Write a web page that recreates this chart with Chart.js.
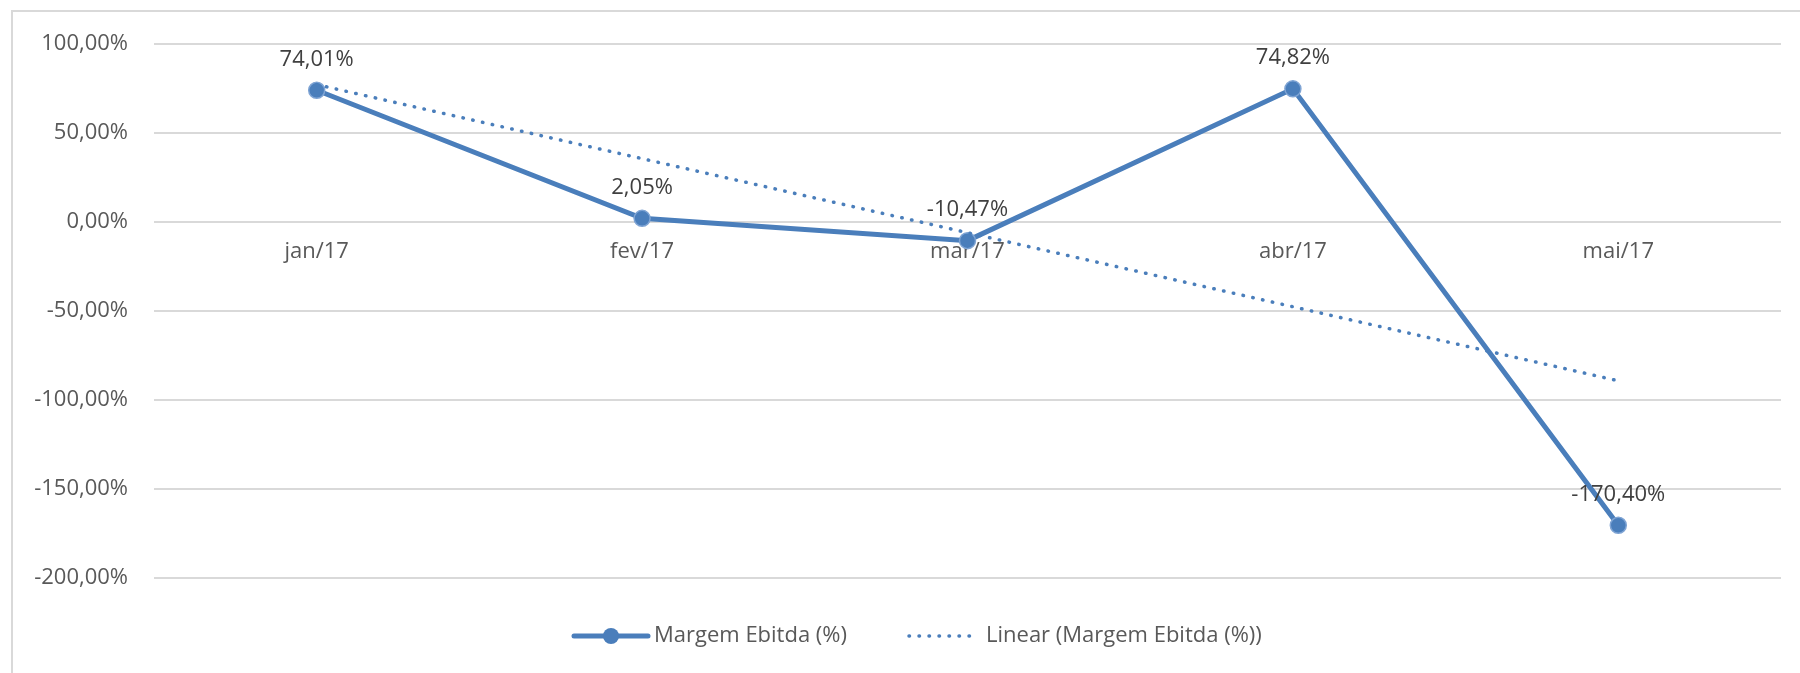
<!DOCTYPE html>
<html>
<head>
<meta charset="utf-8">
<script src="https://cdn.jsdelivr.net/npm/chart.js@4"></script>
<style>
  html, body { margin: 0; padding: 0; background: #ffffff; overflow: hidden; }
  #frame { position: absolute; left: 11px; top: 10px; width: 2000px; height: 1000px;
           border: 2px solid #d9d9d9; box-sizing: border-box; }
  #wrap { position: absolute; left: 0; top: 0; width: 1800px; height: 673px; }
</style>
</head>
<body>
<div id="frame"></div>
<div id="wrap"><canvas id="chart" width="1800" height="673"></canvas></div>
<script>
// Monthly EBITDA margin (%) and its linear trend line
const categories = ['jan/17', 'fev/17', 'mar/17', 'abr/17', 'mai/17'];
const margemEbitda = [74.01, 2.05, -10.47, 74.82, -170.40];
const tendenciaLinear = [77.21, 35.60, -6.00, -47.60, -89.21];
const yTicks = [100, 50, 0, -50, -100, -150, -200];
const seriesNames = ['Margem Ebitda (%)', 'Linear (Margem Ebitda (%))'];

const BLUE = '#4a7ebb';
const FONT = "'Open Sans', sans-serif";
const FONT_SIZE = 22;
const AXIS_TEXT = '#595959';
const LABEL_TEXT = '#404040';

const fmtPct = v => v.toFixed(2).replace('.', ',') + '%';

// Value labels above each point of the main series
const valueLabels = {
  id: 'valueLabels',
  afterDatasetsDraw(chart) {
    const ctx = chart.ctx;
    const meta = chart.getDatasetMeta(0);
    ctx.save();
    ctx.font = FONT_SIZE + 'px ' + FONT;
    ctx.fillStyle = LABEL_TEXT;
    ctx.textAlign = 'center';
    ctx.textBaseline = 'middle';
    meta.data.forEach((pt, i) => {
      ctx.fillText(fmtPct(margemEbitda[i]), pt.x, pt.y - 31);
    });
    ctx.restore();
  }
};

// Bottom legend: line-with-marker sample and dotted trend sample
const bottomLegend = {
  id: 'bottomLegend',
  afterDraw(chart) {
    const ctx = chart.ctx;
    const y = 636;
    ctx.save();
    // solid series sample
    ctx.strokeStyle = BLUE;
    ctx.lineWidth = 5;
    ctx.lineCap = 'round';
    ctx.beginPath();
    ctx.moveTo(574, y);
    ctx.lineTo(648, y);
    ctx.stroke();
    ctx.fillStyle = BLUE;
    ctx.beginPath();
    ctx.arc(611, y, 8, 0, Math.PI * 2);
    ctx.fill();
    // dotted trend sample
    ctx.lineWidth = 3.5;
    ctx.setLineDash([0.5, 9.5]);
    ctx.beginPath();
    ctx.moveTo(909, y);
    ctx.lineTo(975, y);
    ctx.stroke();
    ctx.setLineDash([]);
    // texts
    ctx.font = FONT_SIZE + 'px ' + FONT;
    ctx.fillStyle = AXIS_TEXT;
    ctx.textAlign = 'left';
    ctx.textBaseline = 'middle';
    ctx.fillText(seriesNames[0], 654, y);
    ctx.fillText(seriesNames[1], 986, y);
    ctx.restore();
  }
};

new Chart(document.getElementById('chart'), {
  type: 'line',
  data: {
    labels: categories,
    datasets: [
      {
        label: seriesNames[0],
        data: margemEbitda,
        borderColor: BLUE,
        borderWidth: 5,
        backgroundColor: BLUE,
        pointStyle: 'circle',
        pointRadius: 8,
        pointBorderWidth: 1.5,
        pointBorderColor: '#7fa4d4',
        pointBackgroundColor: BLUE,
        tension: 0,
        order: 1
      },
      {
        label: seriesNames[1],
        data: tendenciaLinear,
        borderColor: BLUE,
        borderWidth: 3.5,
        borderDash: [0.5, 9.5],
        borderCapStyle: 'round',
        pointRadius: 0,
        tension: 0,
        order: 0
      }
    ]
  },
  options: {
    responsive: false,
    animation: false,
    devicePixelRatio: 1,
    layout: { padding: { left: 0, right: 19, top: 44, bottom: 95 } },
    plugins: { legend: { display: false }, tooltip: { enabled: false } },
    scales: {
      x: {
        type: 'category',
        position: { y: 0 },
        offset: true,
        grid: { display: false, drawTicks: false },
        border: { display: false },
        ticks: { color: AXIS_TEXT, font: { family: FONT, size: FONT_SIZE }, padding: 17, maxRotation: 0 }
      },
      y: {
        min: -200,
        max: 100,
        afterBuildTicks(scale) { scale.ticks = yTicks.map(v => ({ value: v })); },
        afterFit(scale) { scale.width = 154; },
        grid: { color: '#d9d9d9', lineWidth: 2, drawTicks: false },
        border: { display: false },
        ticks: {
          color: AXIS_TEXT,
          font: { family: FONT, size: FONT_SIZE },
          padding: 26,
          callback: v => fmtPct(v)
        }
      }
    }
  },
  plugins: [valueLabels, bottomLegend]
});
</script>
</body>
</html>
